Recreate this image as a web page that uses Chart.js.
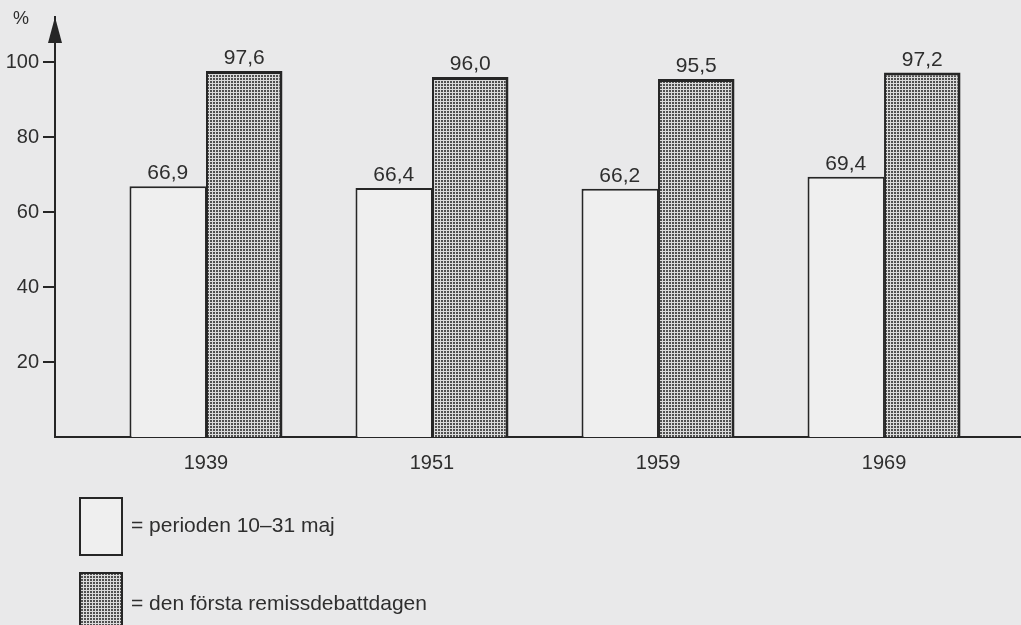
<!DOCTYPE html>
<html><head><meta charset="utf-8">
<script src="https://cdn.jsdelivr.net/npm/chart.js@4.4.0/dist/chart.umd.min.js"></script>
<style>html,body{margin:0;padding:0;background:#e9e9ea;overflow:hidden}#wrap{width:1021px;height:625px}</style>
</head><body><div id="wrap"><canvas id="c" width="1021" height="625"></canvas></div>
<script>
const years = ['1939', '1951', '1959', '1969'];
const perioden = [66.9, 66.4, 66.2, 69.4];
const remiss = [97.6, 96.0, 95.5, 97.2];
const yTicks = [20, 40, 60, 80, 100];
const seriesNames = ['= perioden 10–31 maj', '= den första remissdebattdagen'];
const unitLabel = '%';

const INK = '#262626';
const TXT = '#2e2e2e';
const FONT = '"Liberation Sans", Arial, Helvetica, sans-serif';
const WHITE = '#efefef';

// dotted raster pattern
const pc = document.createElement('canvas');
pc.width = 3; pc.height = 3;
const pctx = pc.getContext('2d');
pctx.fillStyle = '#dadada'; pctx.fillRect(0, 0, 3, 3);
pctx.fillStyle = '#505050'; pctx.fillRect(0, 0, 2, 2);
const dots = document.getElementById('c').getContext('2d').createPattern(pc, 'repeat');

const fmt = v => v.toFixed(1).replace('.', ',');

const extras = {
  id: 'extras',
  afterDraw(chart) {
    const ctx = chart.ctx, ca = chart.chartArea;
    ctx.save();
    // arrow on y axis
    ctx.fillStyle = INK;
    ctx.beginPath();
    ctx.moveTo(ca.left, ca.top);
    ctx.lineTo(ca.left - 7, ca.top + 26);
    ctx.lineTo(ca.left + 7, ca.top + 26);
    ctx.closePath(); ctx.fill();
    // unit
    ctx.fillStyle = TXT;
    ctx.font = '18px ' + FONT;
    ctx.textAlign = 'center'; ctx.textBaseline = 'middle';
    ctx.fillText(unitLabel, 21, 19);
    // value labels
    ctx.font = '21px ' + FONT;
    ctx.textBaseline = 'alphabetic';
    chart.data.datasets.forEach((ds, di) => {
      chart.getDatasetMeta(di).data.forEach((el, i) => {
        ctx.fillText(fmt(ds.data[i].y), el.x, el.y - 7);
      });
    });
    // legend
    ctx.lineWidth = 2; ctx.strokeStyle = INK;
    ctx.fillStyle = WHITE;
    ctx.fillRect(80, 498, 42, 57); ctx.strokeRect(80, 498, 42, 57);
    ctx.fillStyle = dots;
    ctx.fillRect(80, 573, 42, 60); ctx.strokeRect(80, 573, 42, 60);
    ctx.fillStyle = TXT;
    ctx.textAlign = 'left'; ctx.textBaseline = 'middle';
    ctx.fillText(seriesNames[0], 131, 526);
    ctx.fillText(seriesNames[1], 131, 604);
    ctx.restore();
  }
};

new Chart(document.getElementById('c'), {
  type: 'bar',
  data: {
    datasets: [
      { label: seriesNames[0], data: perioden.map((v, i) => ({ x: i, y: v })),
        backgroundColor: WHITE, borderColor: INK,
        borderWidth: { left: 2, top: 2, right: 1, bottom: 0 }, borderSkipped: 'bottom' },
      { label: seriesNames[1], data: remiss.map((v, i) => ({ x: i, y: v })),
        backgroundColor: dots, borderColor: INK,
        borderWidth: { left: 2, top: 3, right: 3, bottom: 0 }, borderSkipped: 'bottom' }
    ]
  },
  options: {
    responsive: false, animation: false, devicePixelRatio: 1,
    categoryPercentage: 0.677, barPercentage: 1,
    layout: { padding: { top: 17, right: 0, left: 0, bottom: 0 } },
    plugins: { legend: { display: false }, tooltip: { enabled: false } },
    scales: {
      x: {
        type: 'linear', min: -0.668, max: 3.606, offset: false,
        grid: { display: false },
        border: { display: true, color: INK, width: 2 },
        ticks: { color: TXT, font: { size: 20, family: FONT }, padding: 6, maxRotation: 0,
          autoSkip: false, callback: v => years[v] },
        afterBuildTicks: s => { s.ticks = years.map((_, i) => ({ value: i })); },
        afterFit: s => { s.height = 188; }
      },
      y: {
        type: 'linear', min: 0, max: 112,
        grid: { drawOnChartArea: false, drawTicks: true, tickLength: 12, color: INK, lineWidth: 2 },
        border: { display: true, color: INK, width: 2 },
        ticks: { color: TXT, font: { size: 20, family: FONT }, padding: 4 },
        afterBuildTicks: s => { s.ticks = yTicks.map(v => ({ value: v })); },
        afterFit: s => { s.width = 55; }
      }
    }
  },
  plugins: [extras]
});
</script>
</body></html>
